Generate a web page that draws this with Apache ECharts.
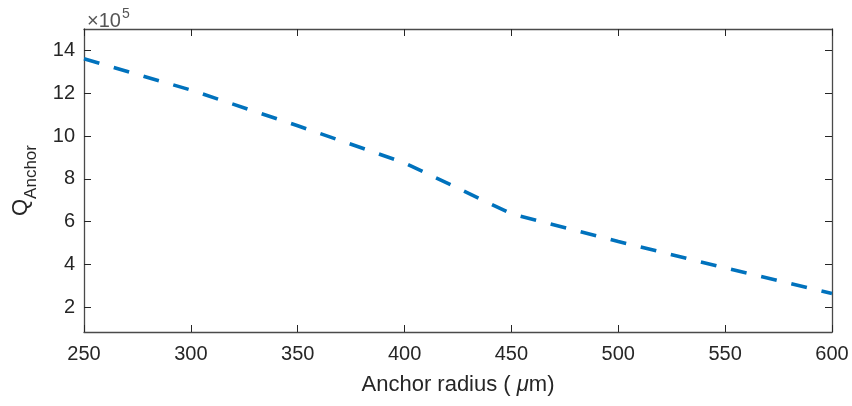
<!DOCTYPE html>
<html>
<head>
<meta charset="utf-8">
<script src="https://cdn.jsdelivr.net/npm/echarts@6/dist/echarts.min.js"></script>
<style>html,body{margin:0;padding:0;background:#fff;}#c{width:852px;height:406px;}</style>
</head>
<body>
<div id="c"></div>
<script>
// Data (Q values in units of 1e5)
const radius = [250, 300, 350, 400, 450, 500, 550, 600];
const qAnchor = [13.61, 12.15, 10.48, 8.75, 6.37, 5.08, 3.84, 2.65];
const yTicks = [2, 4, 6, 8, 10, 12, 14];
const xTicks = [250, 300, 350, 400, 450, 500, 550, 600];

const FONT = 'Liberation Sans, Arial, Helvetica, sans-serif';
const AX = '#262626';
const AXLINE = '#4a4a4a';

const chart = echarts.init(document.getElementById('c'), null, {renderer: 'canvas'});
const common = {
  axisLine: {show: true, onZero: false, lineStyle: {color: AXLINE, width: 1.3}},
  axisTick: {show: true, inside: true, length: 7, lineStyle: {color: AX, width: 1}},
  splitLine: {show: false}
};
chart.setOption({
  animation: false,
  backgroundColor: '#fff',
  title: {
    text: '{a|×10}{b|5}',
    left: 82, top: 2,
    textStyle: {
      fontFamily: FONT, fontWeight: 'normal',
      rich: {
        a: {fontSize: 20, color: '#555', fontFamily: FONT, fontWeight: 'normal', verticalAlign: 'bottom', lineHeight: 24},
        b: {fontSize: 14, color: '#555', fontFamily: FONT, fontWeight: 'normal', verticalAlign: 'top', lineHeight: 24, padding: [0,0,10,1]}
      }
    }
  },
  grid: {left: 84, right: 20, top: 29, bottom: 74, containLabel: false},
  xAxis: [
    Object.assign({}, common, {
      type: 'value', min: 250, max: 600, interval: 50, position: 'bottom',
      axisLabel: {fontSize: 20, color: AX, fontFamily: FONT, margin: 12},
      name: '{n|Anchor radius ( }{i|μ}{n|m)}',
      nameLocation: 'middle', nameGap: 42,
      nameTextStyle: {
        fontSize: 22, color: AX, fontFamily: FONT,
        rich: {
          n: {fontSize: 22, color: AX, fontFamily: FONT},
          i: {fontSize: 22, color: AX, fontFamily: FONT, fontStyle: 'italic'}
        }
      }
    }),
    Object.assign({}, common, {
      type: 'value', min: 250, max: 600, interval: 50, position: 'top',
      axisLabel: {show: false}
    })
  ],
  yAxis: [
    Object.assign({}, common, {
      type: 'value', min: 0.85, max: 15, position: 'left',
      axisTick: {show: true, inside: true, length: 7, lineStyle: {color: AX, width: 1}, customValues: yTicks},
      axisLabel: {fontSize: 20, color: AX, fontFamily: FONT, margin: 9, customValues: yTicks},
      name: '{q|Q}{s|Anchor}',
      nameLocation: 'middle', nameGap: 44, nameRotate: 90,
      nameTextStyle: {
        color: AX, fontFamily: FONT,
        rich: {
          q: {fontSize: 22, color: AX, fontFamily: FONT, verticalAlign: 'top', lineHeight: 30},
          s: {fontSize: 17, color: AX, fontFamily: FONT, verticalAlign: 'bottom', lineHeight: 30}
        }
      }
    }),
    Object.assign({}, common, {
      type: 'value', min: 0.85, max: 15, position: 'right',
      axisTick: {show: true, inside: true, length: 7, lineStyle: {color: AX, width: 1}, customValues: yTicks},
      axisLabel: {show: false}
    })
  ],
  series: [{
    type: 'line',
    xAxisIndex: 0, yAxisIndex: 0,
    data: radius.map((r, i) => [r, qAnchor[i]]),
    showSymbol: false,
    smooth: false,
    lineStyle: {color: '#0072BD', width: 3.6, type: [16, 15], cap: 'butt'}
  }]
});
</script>
</body>
</html>
